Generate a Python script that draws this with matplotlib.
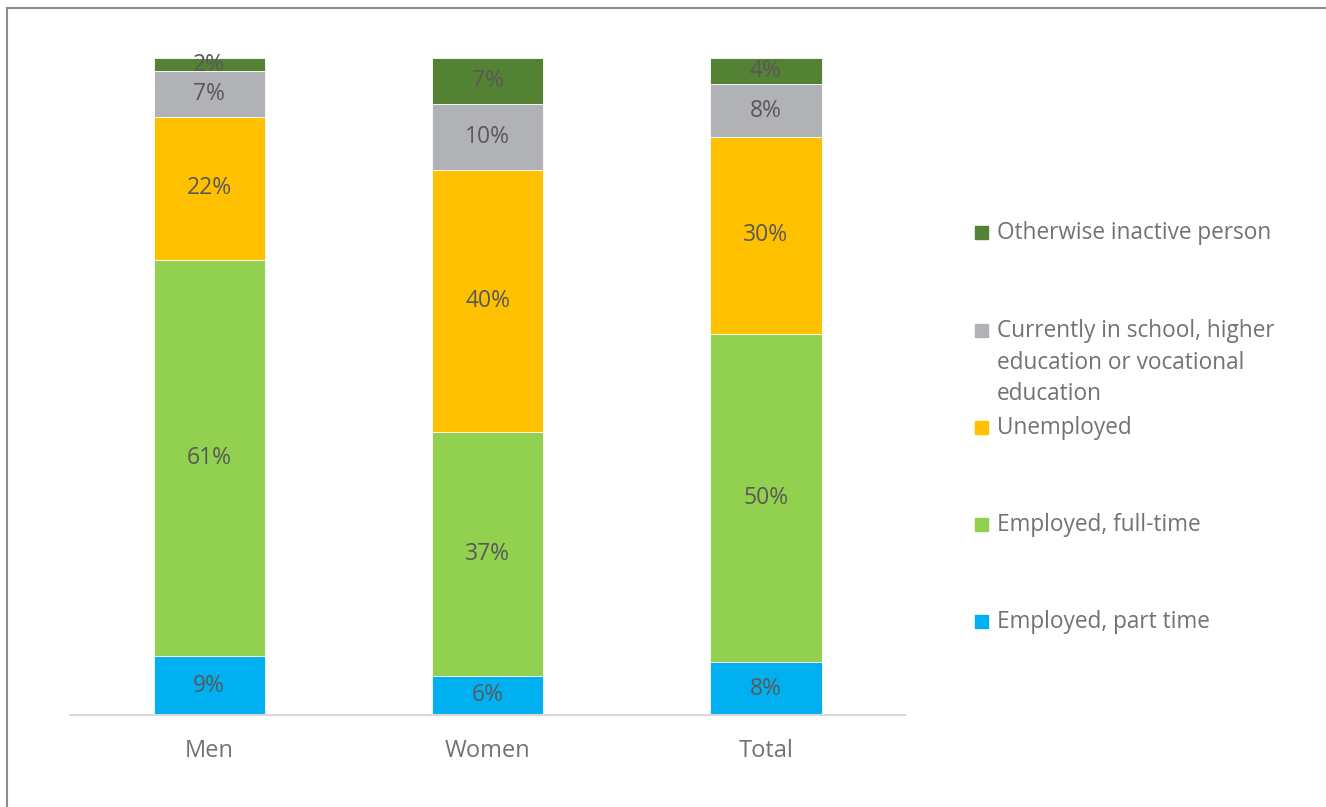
import matplotlib.pyplot as plt
import numpy as np
from matplotlib.patches import Rectangle
from matplotlib.lines import Line2D

groups = ["Men", "Women", "Total"]
series = ["Employed, part time", "Employed, full-time", "Unemployed",
          "Currently in school, higher\neducation or vocational\neducation",
          "Otherwise inactive person"]
part_time = [9, 6, 8]
full_time = [61, 37, 50]
unemployed = [22, 40, 30]
in_school = [7, 10, 8]
inactive = [2, 7, 4]
colors = ["#00B0F0", "#92D050", "#FFC000", "#B1B2B5", "#548235"]

plt.rcParams['font.family'] = ['Open Sans', 'DejaVu Sans']

fig = plt.figure(figsize=(13.26, 8.07), dpi=100)
ax = fig.add_axes([70 / 1326, 1 - 715 / 807, 835 / 1326, 657 / 807])

values = np.array([part_time, full_time, unemployed, in_school, inactive], dtype=float)
shares = values / values.sum(axis=0) * 100  # 100% stacked
x = np.arange(len(groups))
bottom = np.zeros(len(groups))
for vals, shr, col in zip(values, shares, colors):
    ax.bar(x, shr, width=0.4, bottom=bottom, color=col, edgecolor="white", linewidth=0.6)
    for xi, b, s, v in zip(x, bottom, shr, vals):
        ax.text(xi, b + s / 2, f"{v:.0f}%", ha="center", va="center",
                fontsize=16.5, color="#595959")
    bottom += shr

ax.set_xlim(-0.5, 2.5)
ax.set_ylim(0, 100)
for sp in ["top", "right", "left"]:
    ax.spines[sp].set_visible(False)
ax.spines["bottom"].set_color("#D9D9D9")
ax.spines["bottom"].set_linewidth(1.5)
ax.set_yticks([])
ax.set_xticks(x)
ax.set_xticklabels(groups, fontsize=17, color="#767171")
ax.tick_params(axis="x", length=0, pad=17)

# legend drawn by hand, top entry first
legend_y = [232, 330, 427, 524, 621]
for name, col, ly in zip(series[::-1], colors[::-1], legend_y):
    fig.patches.append(Rectangle((975 / 1326, 1 - (ly + 7) / 807), 13 / 1326, 13 / 807,
                                 transform=fig.transFigure, color=col))
    fig.text(997 / 1326, 1 - (ly - 11) / 807, name, ha="left", va="top",
             fontsize=16.3, color="#767171", linespacing=1.42)

# frame lines along the top and left edges
fig.add_artist(Line2D([7 / 1326, 1], [1 - 8 / 807, 1 - 8 / 807], color="#8C8C8C", lw=1.5))
fig.add_artist(Line2D([7 / 1326, 7 / 1326], [0, 1 - 8 / 807], color="#8C8C8C", lw=1.5))

fig.savefig("out.png", dpi=100)
